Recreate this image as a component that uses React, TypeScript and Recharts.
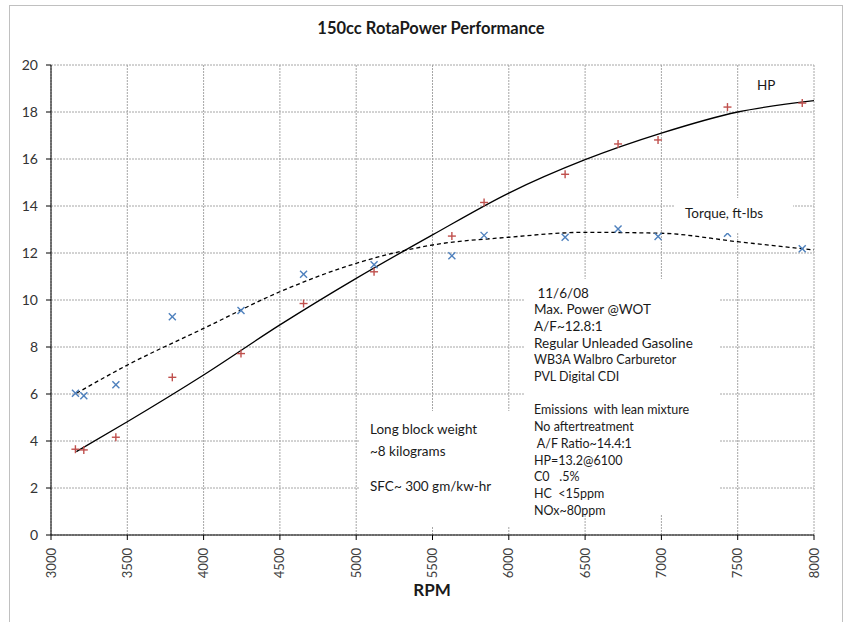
import React from 'react';
import { ComposedChart, Line, Scatter, XAxis, YAxis, CartesianGrid } from 'recharts';

// measured points
const rpm = [3160, 3215, 3425, 3795, 4245, 4655, 5117, 5627, 5838, 6369, 6716, 6978, 7433, 7923];
const hp = [3.65, 3.62, 4.16, 6.71, 7.72, 9.85, 11.2, 12.72, 14.15, 15.35, 16.64, 16.81, 18.21, 18.38];
const torque = [6.03, 5.93, 6.39, 9.29, 9.55, 11.1, 11.5, 11.88, 12.75, 12.67, 13.02, 12.7, 12.84, 12.18];

// trend lines
const trendRpm = [3166, 3500, 4000, 4500, 5000, 5500, 6000, 6500, 7000, 7500, 8000];
const hpTrend = [3.55, 4.82, 6.81, 8.94, 10.92, 12.77, 14.55, 15.97, 17.1, 18.0, 18.48];
const torqueTrend = [6.03, 7.23, 8.79, 10.35, 11.56, 12.34, 12.67, 12.88, 12.84, 12.48, 12.13];

const xTicks = [3000, 3500, 4000, 4500, 5000, 5500, 6000, 6500, 7000, 7500, 8000];
const yTicks = [0, 2, 4, 6, 8, 10, 12, 14, 16, 18, 20];

const notes = [
  ' 11/6/08',
  'Max. Power @WOT',
  'A/F~12.8:1',
  'Regular Unleaded Gasoline',
  'WB3A Walbro Carburetor',
  'PVL Digital CDI',
  '',
  'Emissions  with lean mixture',
  'No aftertreatment',
  ' A/F Ratio~14.4:1',
  'HP=13.2@6100',
  'C0   .5%',
  'HC  <15ppm',
  'NOx~80ppm',
];
const smallFrom = 4;

const hpPoints = rpm.map((r, i) => ({ rpm: r, hp: hp[i] }));
const torquePoints = rpm.map((r, i) => ({ rpm: r, torque: torque[i] }));
const hpLine = trendRpm.map((r, i) => ({ rpm: r, hpFit: hpTrend[i] }));
const torqueLine = trendRpm.map((r, i) => ({ rpm: r, tqFit: torqueTrend[i] }));

const FONT = 'Lato, "Open Sans", sans-serif';

const Plus = (props: any) => {
  const { cx, cy } = props;
  return (
    <g stroke="#c0504d" strokeWidth={1.4}>
      <line x1={cx - 4} y1={cy} x2={cx + 4} y2={cy} />
      <line x1={cx} y1={cy - 4} x2={cx} y2={cy + 4} />
    </g>
  );
};

const Cross = (props: any) => {
  const { cx, cy } = props;
  return (
    <g stroke="#4f81bd" strokeWidth={1.4}>
      <line x1={cx - 3.5} y1={cy - 3.5} x2={cx + 3.5} y2={cy + 3.5} />
      <line x1={cx - 3.5} y1={cy + 3.5} x2={cx + 3.5} y2={cy - 3.5} />
    </g>
  );
};

const XTick = (props: any) => {
  const { x, y, payload } = props;
  return (
    <g transform={`translate(${x},${y})`}>
      <text transform="rotate(-90)" textAnchor="end" dy="0.35em" fontSize={13} fill="#404040" fontFamily={FONT}>
        {payload.value}
      </text>
    </g>
  );
};

const abs = (left: number, top: number, extra: React.CSSProperties = {}): React.CSSProperties => ({
  position: 'absolute',
  left,
  top,
  fontFamily: FONT,
  color: '#1a1a1a',
  whiteSpace: 'pre',
  ...extra,
});

export default function App() {
  return (
    <div style={{ position: 'absolute', left: 0, top: 0, width: 851, height: 622, background: '#fff' }}>
      <div style={{ position: 'absolute', left: 9, top: 5, width: 834, height: 640, border: '1.5px solid #c0c0c0', boxSizing: 'border-box' }} />
      <ComposedChart width={851} height={622} margin={{ top: 65, right: 37, bottom: 37, left: 0 }}>
        <CartesianGrid stroke="#a6a6a6" strokeDasharray="2 1" />
        <XAxis
          dataKey="rpm"
          type="number"
          domain={[3000, 8000]}
          ticks={xTicks}
          allowDataOverflow
          height={50}
          tickSize={5}
          tickMargin={8}
          stroke="#000"
          tick={<XTick />}
        />
        <YAxis
          type="number"
          domain={[0, 20]}
          ticks={yTicks}
          width={51}
          tickSize={5}
          tickMargin={8}
          stroke="#000"
          tick={{ fontSize: 14, fill: '#333', fontFamily: FONT }}
        />
        <Line data={hpLine} dataKey="hpFit" type="monotone" dot={false} stroke="#000" strokeWidth={1.3} isAnimationActive={false} />
        <Line data={torqueLine} dataKey="tqFit" type="monotone" dot={false} stroke="#000" strokeWidth={1.3} strokeDasharray="4 3" isAnimationActive={false} />
        <Scatter data={hpPoints} dataKey="hp" shape={<Plus />} isAnimationActive={false} />
        <Scatter data={torquePoints} dataKey="torque" shape={<Cross />} isAnimationActive={false} />
      </ComposedChart>

      <div style={abs(0, 16, { width: 862, textAlign: 'center', fontSize: 16.5, fontWeight: 700, lineHeight: '24px' })}>
        150cc RotaPower Performance
      </div>
      <div style={abs(0, 578, { width: 864, textAlign: 'center', fontSize: 17, fontWeight: 700, lineHeight: '24px' })}>
        RPM
      </div>
      <div style={abs(757, 76, { fontSize: 13.5, lineHeight: '18px' })}>HP</div>
      <div style={abs(675, 198, { width: 118, height: 35, background: '#fff', paddingLeft: 10, paddingTop: 1, boxSizing: 'border-box', fontSize: 13.5, lineHeight: '28px' })}>
        Torque, ft-lbs
      </div>
      <div style={abs(360, 411, { width: 165, height: 116, background: '#fff', paddingLeft: 10, paddingTop: 7, boxSizing: 'border-box', fontSize: 13.5, lineHeight: '22px' })}>
        <div>Long block weight</div>
        <div>~8 kilograms</div>
        <div style={{ marginTop: 13 }}>SFC~ 300 gm/kw-hr</div>
      </div>
      <div style={abs(525, 279, { width: 195, height: 235, background: '#fff', paddingLeft: 9, paddingTop: 5.6, boxSizing: 'border-box' })}>
        {notes.map((t, i) => (
          <div key={i} style={{ height: 16.8, lineHeight: '16.8px', fontSize: i >= smallFrom ? 12.5 : 13.5 }}>
            {t}
          </div>
        ))}
      </div>
    </div>
  );
}
